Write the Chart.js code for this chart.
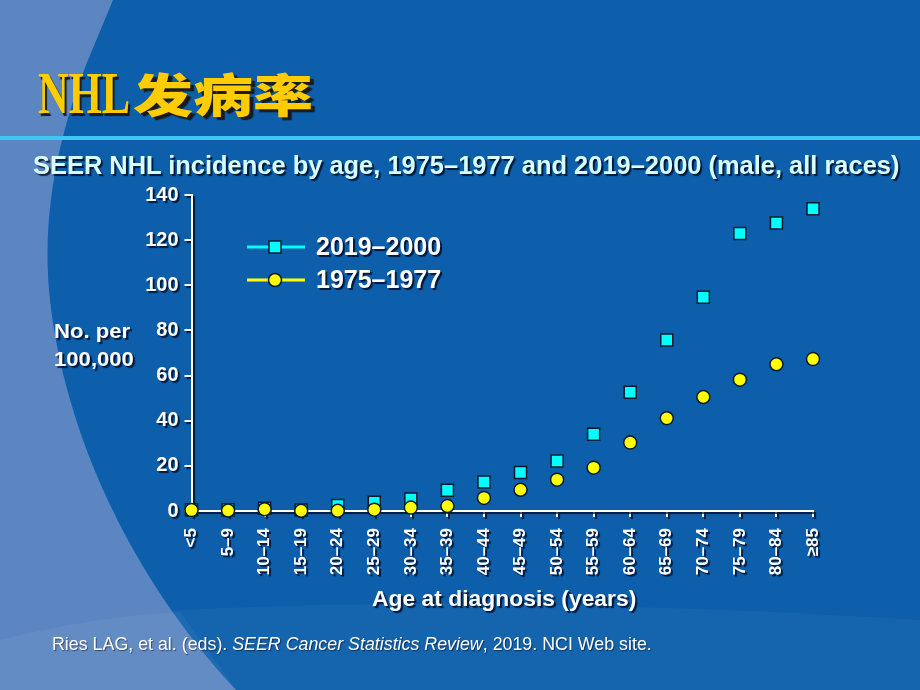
<!DOCTYPE html>
<html>
<head>
<meta charset="utf-8">
<script src="https://cdn.jsdelivr.net/npm/chart.js@4.4.0/dist/chart.umd.min.js"></script>
<style>
    html, body { margin: 0; padding: 0; }
    body {
        width: 920px; height: 690px; overflow: hidden; position: relative;
        background: #0D5FAC;
        font-family: "Liberation Sans", Arial, sans-serif;
    }
    #bg, #chart { position: absolute; left: 0; top: 0; }
    .txt {
        position: absolute; white-space: nowrap; transform-origin: 0 0;
        text-shadow: 2px 2px 1px rgba(0, 0, 20, 0.75);
    }
    #titleEn {
        left: 38px; top: 63px; font-family: "Liberation Serif", serif; font-weight: bold;
        font-size: 60px; line-height: 60px; color: #FFCC00;
        text-shadow: 3px 3px 1px #1a1a1a;
    }
    #titleZh {
        left: 133px; top: 69px; font-family: "Noto Sans CJK SC", sans-serif;
        font-weight: 900; font-size: 46px; line-height: 46px; color: #FFCC00;
        text-shadow: 3px 3px 1px #1a1a1a;
    }
    #subtitle {
        left: 33px; top: 153px; font-weight: bold; font-size: 25.5px; line-height: 25.5px;
        color: #D8FFFF;
    }
    #yTitle {
        left: 54px; top: 317px; font-weight: bold; font-size: 21px; line-height: 28px; color: #fff;
    }
    #xTitle {
        left: 372px; top: 588px; font-weight: bold; font-size: 22px; line-height: 22px; color: #fff;
    }
    #source {
        left: 52px; top: 635px; font-size: 18.5px; line-height: 18.5px; color: #fff;
        text-shadow: 1px 1px 1px rgba(0, 0, 20, 0.5);
    }
</style>
</head>
<body>
<svg id="bg" width="920" height="690">
    <rect x="0" y="0" width="920" height="690" fill="#0D5FAC"/>
    <path d="M0,625 C250,595 600,600 920,620 L920,690 L0,690 Z" fill="#ffffff" fill-opacity="0.03"/>
    <path d="M0,0 L113,0 L88,60 C62,125 40,210 50,300 C62,410 115,560 236,690 L0,690 Z" fill="#5B86C1"/>
    <path d="M0,640 C60,625 120,615 180,612 L236,690 L0,690 Z" fill="#ffffff" fill-opacity="0.05"/>
    <rect x="0" y="136" width="920" height="4" fill="#3CC7F5"/>
</svg>
<canvas id="chart" width="920" height="690"></canvas>

<div class="txt fit" id="titleEn" data-w="92">NHL</div>
<div class="txt fit" id="titleZh" data-w="180">发病率</div>
<div class="txt fit" id="subtitle" data-w="866">SEER NHL incidence by age, 1975–1977 and 2019–2000 (male, all races)</div>
<div class="txt fit" id="yTitle" data-w="80">No. per<br>100,000</div>
<div class="txt fit" id="xTitle" data-w="264">Age at diagnosis (years)</div>
<div class="txt fit" id="source" data-w="600">Ries LAG, et al. (eds). <i>SEER Cancer Statistics Review</i>, 2019. NCI Web site.</div>

<script>
const ageGroups = ['<5', '5–9', '10–14', '15–19', '20–24', '25–29', '30–34', '35–39', '40–44',
    '45–49', '50–54', '55–59', '60–64', '65–69', '70–74', '75–79', '80–84', '≥85'];

const rate2019 = [0.6, 0.5, 1.2, 0.4, 2.4, 3.9, 5.3, 9.2, 12.8,
    17.1, 22.2, 34.0, 52.6, 75.8, 94.7, 122.9, 127.6, 133.9];

const rate1975 = [0.4, 0.2, 0.8, 0.1, 0.1, 0.6, 1.5, 2.2, 5.8,
    9.4, 13.9, 19.2, 30.3, 41.1, 50.5, 58.2, 65.0, 67.3];

const seriesLabels = ['2019–2000', '1975–1977'];
const yTicks = [0, 20, 40, 60, 80, 100, 120, 140];

function fitText() {
    document.querySelectorAll('.fit').forEach(el => {
        el.style.transform = 'none';
        const target = parseFloat(el.dataset.w);
        const scale = target / el.offsetWidth;
        el.style.transform = `scaleX(${scale})`;
    });
}
fitText();
document.fonts.ready.then(fitText);

// shadow for axis text and lines, switched off before the markers
const shadowPlugin = {
    id: 'shadow',
    beforeDraw(chart) {
        const ctx = chart.ctx;
        ctx.shadowColor = 'rgba(0, 0, 20, 0.75)';
        ctx.shadowOffsetX = 2;
        ctx.shadowOffsetY = 2;
        ctx.shadowBlur = 1;
    },
    beforeDatasetsDraw(chart) {
        const ctx = chart.ctx;
        ctx.shadowColor = 'rgba(0, 0, 0, 0)';
        ctx.shadowOffsetX = 0;
        ctx.shadowOffsetY = 0;
        ctx.shadowBlur = 0;
    }
};

const legendPlugin = {
    id: 'slideLegend',
    afterDatasetsDraw(chart) {
        const ctx = chart.ctx;
        const rows = [247, 280];
        chart.data.datasets.forEach((ds, i) => {
            const y = rows[i];
            ctx.save();
            ctx.strokeStyle = ds.backgroundColor;
            ctx.lineWidth = 3;
            ctx.beginPath();
            ctx.moveTo(247, y);
            ctx.lineTo(305, y);
            ctx.stroke();
            ctx.fillStyle = ds.backgroundColor;
            ctx.strokeStyle = ds.borderColor;
            ctx.lineWidth = ds.borderWidth;
            Chart.helpers.drawPoint(ctx, {
                pointStyle: ds.pointStyle,
                radius: ds.pointRadius,
                borderWidth: ds.borderWidth,
                rotation: 0
            }, 275, y);
            ctx.shadowColor = 'rgba(0, 0, 20, 0.75)';
            ctx.shadowOffsetX = 2;
            ctx.shadowOffsetY = 2;
            ctx.shadowBlur = 1;
            ctx.fillStyle = '#ffffff';
            ctx.font = 'bold 25px "Liberation Sans", Arial, sans-serif';
            ctx.textBaseline = 'middle';
            ctx.fillText(ds.label, 316, y + 1);
            ctx.restore();
        });
    }
};

const ctx = document.getElementById('chart').getContext('2d');

new Chart(ctx, {
    type: 'line',
    data: {
        labels: ageGroups,
        datasets: [{
            label: seriesLabels[0],
            data: rate2019,
            showLine: false,
            pointStyle: 'rect',
            pointRadius: 8.5,
            pointHoverRadius: 8.5,
            backgroundColor: '#00FFFF',
            borderColor: '#0b1a2e',
            borderWidth: 1.5,
            clip: false,
            order: 2
        }, {
            label: seriesLabels[1],
            data: rate1975,
            showLine: false,
            pointStyle: 'circle',
            pointRadius: 6.5,
            pointHoverRadius: 6.5,
            backgroundColor: '#FFFF00',
            borderColor: '#0b1a2e',
            borderWidth: 1.5,
            clip: false,
            order: 1
        }]
    },
    options: {
        responsive: false,
        animation: false,
        events: [],
        layout: {
            padding: { left: 0, right: 107, top: 195, bottom: 0 }
        },
        plugins: {
            legend: { display: false },
            tooltip: { enabled: false }
        },
        scales: {
            x: {
                type: 'category',
                offset: false,
                afterFit(scale) { scale.height = 179; },
                grid: {
                    display: true,
                    drawOnChartArea: false,
                    color: '#ffffff',
                    lineWidth: 2,
                    tickLength: 6
                },
                border: { display: true, color: '#ffffff', width: 2 },
                ticks: {
                    color: '#ffffff',
                    font: { size: 17, weight: 'bold' },
                    minRotation: 90,
                    maxRotation: 90,
                    autoSkip: false,
                    padding: 11
                }
            },
            y: {
                min: 0,
                max: 140,
                afterFit(scale) { scale.width = 191.5; },
                afterBuildTicks(scale) {
                    scale.ticks = yTicks.map(v => ({ value: v }));
                },
                grid: {
                    display: true,
                    drawOnChartArea: false,
                    color: '#ffffff',
                    lineWidth: 2,
                    tickLength: 7
                },
                border: { display: true, color: '#ffffff', width: 2 },
                ticks: {
                    color: '#ffffff',
                    font: { size: 20, weight: 'bold' },
                    padding: 6
                }
            }
        }
    },
    plugins: [shadowPlugin, legendPlugin]
});
</script>
</body>
</html>
